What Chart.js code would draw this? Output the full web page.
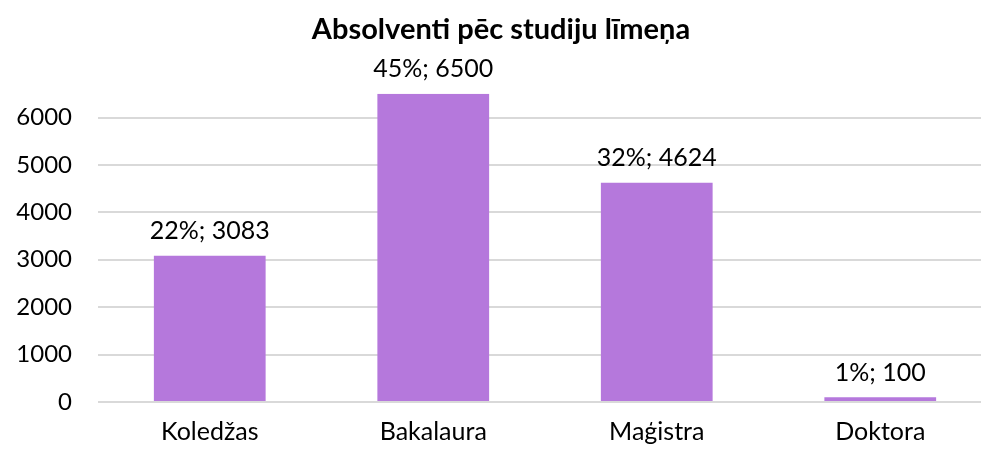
<!DOCTYPE html>
<html>
<head>
<meta charset="utf-8">
<script src="https://cdn.jsdelivr.net/npm/chart.js@4"></script>
<style>
  html, body { margin: 0; padding: 0; background: #fff; overflow: hidden; }
  #wrap { width: 992px; height: 454px; }
</style>
</head>
<body>
<div id="wrap"><canvas id="chart"></canvas></div>
<script>
const categories = ["Koledžas", "Bakalaura", "Maģistra", "Doktora"];
const values = [3083, 6500, 4624, 100];
const shares = ["22%", "45%", "32%", "1%"];
const yTicks = [0, 1000, 2000, 3000, 4000, 5000, 6000];

const FONT = "Lato, 'Open Sans', sans-serif";

// draws "share; value" above every bar
const barLabels = {
  id: "barLabels",
  afterDatasetsDraw(chart) {
    const ctx = chart.ctx;
    const meta = chart.getDatasetMeta(0);
    ctx.save();
    ctx.font = "25px " + FONT;
    ctx.fillStyle = "#000";
    ctx.textAlign = "center";
    ctx.textBaseline = "bottom";
    meta.data.forEach((bar, i) => {
      ctx.fillText(shares[i] + "; " + values[i], bar.x, bar.y - 12);
    });
    ctx.restore();
  }
};

new Chart(document.getElementById("chart"), {
  type: "bar",
  data: {
    labels: categories,
    datasets: [{
      data: values,
      backgroundColor: "#b578dc",
      categoryPercentage: 1,
      barPercentage: 0.5
    }]
  },
  options: {
    responsive: true,
    maintainAspectRatio: false,
    animation: false,
    layout: { padding: { left: 10, right: 0, top: 6, bottom: 0 } },
    plugins: {
      legend: { display: false },
      tooltip: { enabled: false },
      title: {
        display: true,
        text: "Absolventi pēc studiju līmeņa",
        color: "#000",
        font: { family: FONT, size: 29, weight: "bold" },
        padding: { top: 6, bottom: 47 }
      }
    },
    scales: {
      x: {
        grid: { display: false },
        border: { display: false },
        ticks: { color: "#000", font: { family: FONT, size: 25 }, padding: 7 }
      },
      y: {
        min: 0,
        max: 6500,
        afterBuildTicks(axis) { axis.ticks = yTicks.map(v => ({ value: v })); },
        afterFit(axis) { axis.width = 88; },
        grid: { color: "#d9d9d9", lineWidth: 2, drawTicks: false },
        border: { display: false },
        ticks: {
          color: "#000",
          font: { family: FONT, size: 24 },
          padding: 26,
          callback: v => String(v)
        }
      }
    }
  },
  plugins: [barLabels]
});
</script>
</body>
</html>
